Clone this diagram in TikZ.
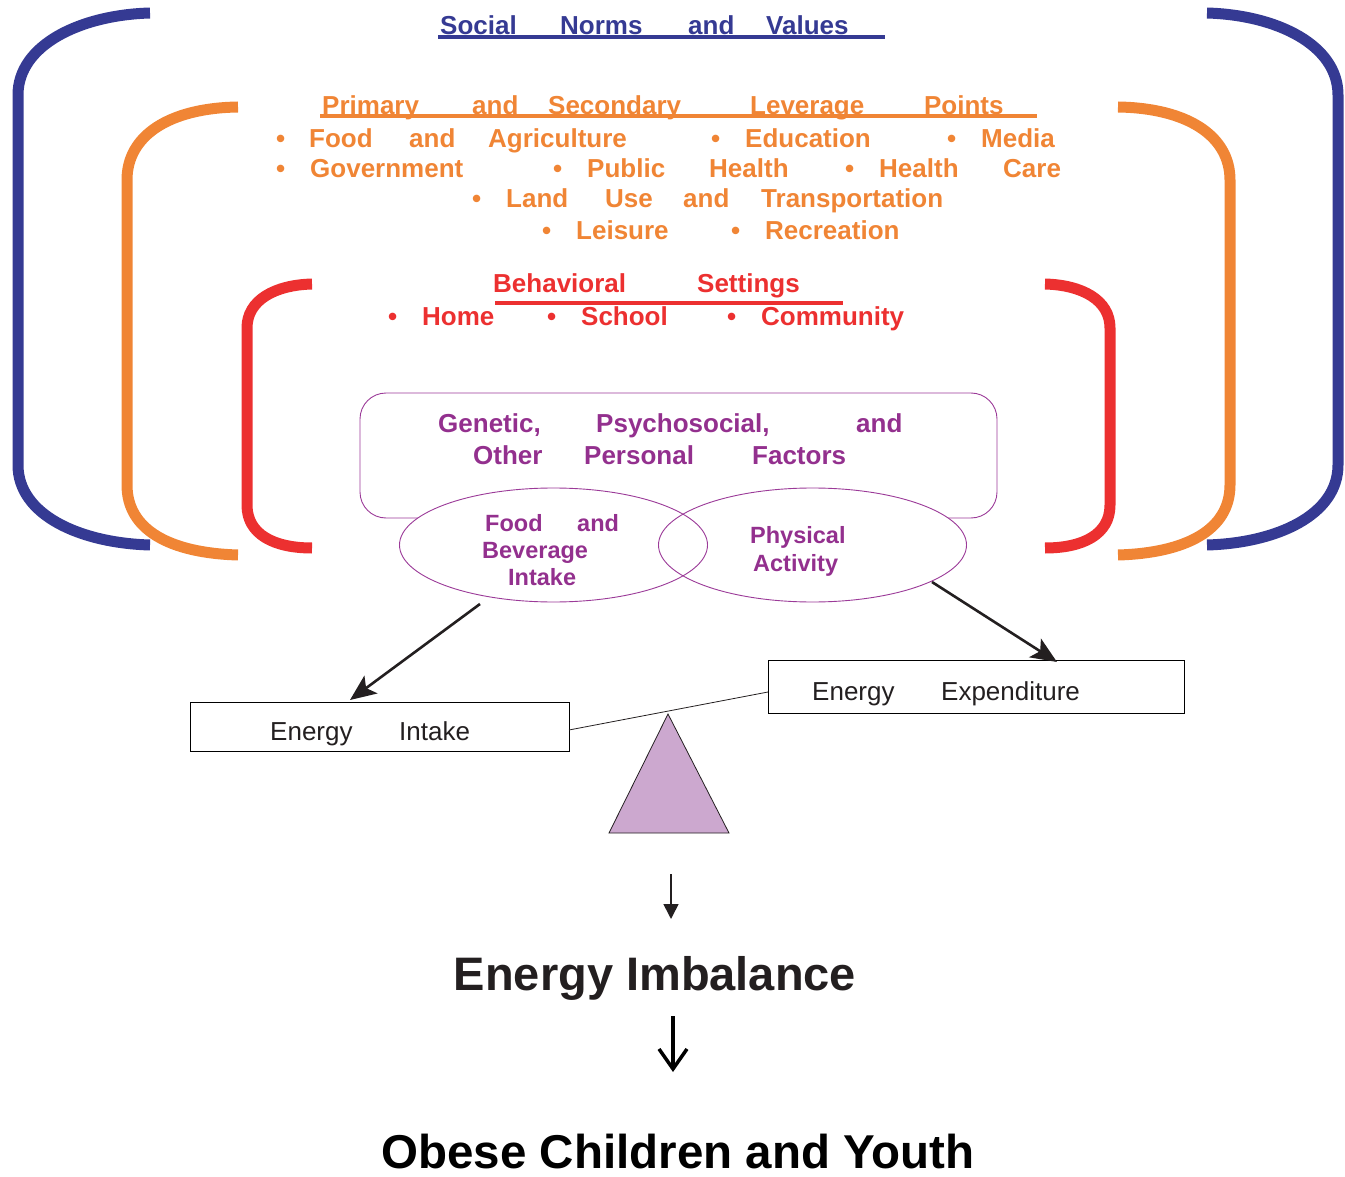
\documentclass[tikz,border=0pt]{standalone}
\usepackage{fontspec}
\setmainfont{Liberation Sans}
\usetikzlibrary{shapes.geometric,arrows.meta}
\definecolor{cblue}{HTML}{353A93}
\definecolor{corange}{HTML}{F08535}
\definecolor{cred}{HTML}{EC3030}
\definecolor{cpurple}{HTML}{93308E}
\definecolor{cline}{HTML}{9B3A98}
\definecolor{ctri}{HTML}{CCA8CF}
\definecolor{cdark}{HTML}{231F20}
\newcommand\wbox[2]{\makebox[#1pt][l]{#2}}
\begin{document}
\begin{tikzpicture}[x=1pt,y=-1pt,
  txt/.style={anchor=base west, inner sep=0pt, font=\fontsize{26}{30}\selectfont\bfseries},
  etxt/.style={anchor=base west, inner sep=0pt, font=\fontsize{23.5}{28}\selectfont\bfseries, text=cpurple},
  btxt/.style={anchor=base west, inner sep=0pt, font=\fontsize{26}{30}\selectfont, text=cdark},
  bigtxt/.style={anchor=base, inner sep=0pt, font=\fontsize{47}{52}\selectfont\bfseries, text=cdark},
  bracket/.style={line width=11pt},
  uline/.style={line width=3.5pt},
  ell/.style={draw=cline, line width=0.9pt, ellipse, minimum width=308pt, minimum height=114pt, inner sep=0pt},
  ebox/.style={draw=black, line width=0.8pt, inner sep=0pt},
  darrow/.style={line width=2.6pt, -{Stealth[length=26pt,width=22pt,inset=6pt]}}
]
\useasboundingbox (0,0) rectangle (1345,1177);

% brackets
\draw[bracket, cblue] (150,13) .. controls (80,15) and (18,45) .. (18,95) -- (18,465) .. controls (18,515) and (80,543) .. (150,545);
\draw[bracket, cblue] (1207,13) .. controls (1277,15) and (1338,45) .. (1338,95) -- (1338,465) .. controls (1338,515) and (1277,543) .. (1207,545);
\draw[bracket, corange] (238,107) .. controls (170,108) and (127,135) .. (127,180) -- (127,485) .. controls (127,530) and (170,553) .. (238,555);
\draw[bracket, corange] (1118,107) .. controls (1186,108) and (1230,135) .. (1230,180) -- (1230,485) .. controls (1230,530) and (1186,553) .. (1118,555);
\draw[bracket, cred] (312,284) .. controls (275,285) and (247,300) .. (247,328) -- (247,505) .. controls (247,535) and (275,548) .. (312,548);
\draw[bracket, cred] (1045,284) .. controls (1082,285) and (1110,300) .. (1110,328) -- (1110,505) .. controls (1110,535) and (1082,548) .. (1045,548);

% social norms
\node[txt, text=cblue] (sn) at (440,35) {\wbox{120}{Social}\wbox{128}{Norms}\wbox{78}{and}Values};
\draw[uline, cblue] (438,37) -- (885,37);

% leverage points
\node[txt, text=corange] (lp) at (322,115) {\wbox{150}{Primary}\wbox{76}{and}\wbox{202}{Secondary}\wbox{174}{Leverage}Points};
\draw[uline, corange] (320,116) -- (1037,116);
\node[txt, text=corange] (lp1) at (276,148) {\wbox{33}{•}\wbox{100}{Food}\wbox{79}{and}\wbox{223}{Agriculture}\wbox{34}{•}\wbox{202}{Education}\wbox{34}{•}Media};
\node[txt, text=corange] (lp2) at (276,178) {\wbox{34}{•}\wbox{243}{Government}\wbox{34}{•}\wbox{122}{Public}\wbox{136}{Health}\wbox{34}{•}\wbox{124}{Health}Care};
\node[txt, text=corange] (lp3) at (472,208) {\wbox{34}{•}\wbox{99}{Land}\wbox{78}{Use}\wbox{78}{and}Transportation};
\node[txt, text=corange] (lp4) at (542,240) {\wbox{34}{•}\wbox{155}{Leisure}\wbox{34}{•}Recreation};

% behavioral settings
\node[txt, text=cred] (bs) at (493,293) {\wbox{204}{Behavioral}Settings};
\draw[uline, cred] (495,303) -- (843,303);
\node[txt, text=cred] (bs1) at (388,325) {\wbox{34}{•}\wbox{125}{Home}\wbox{34}{•}\wbox{146}{School}\wbox{34}{•}Community};

% personal factors box
\draw[draw=cline, line width=0.9pt, rounded corners=26pt] (360,393) rectangle (997,518);
\node[txt, text=cpurple] (pf1) at (438,432) {\wbox{158}{Genetic,}\wbox{260}{Psychosocial,}and};
\node[txt, text=cpurple] (pf2) at (473,464) {\wbox{111}{Other}\wbox{168}{Personal}Factors};

% ellipses
\node[ell, fill=white, draw=none] (fbi) at (553.5,545) {};
\node[ell, fill=white, draw=none] (pa) at (812.5,545) {};
\node[ell] (fbi2) at (553.5,545) {};
\node[ell] (pa2) at (812.5,545) {};
\node[etxt] (f1) at (485,531) {\wbox{92}{Food}and};
\node[etxt] (f2) at (482,558) {Beverage};
\node[etxt] (f3) at (508,585) {Intake};
\node[etxt] (p1) at (750,543) {Physical};
\node[etxt] (p2) at (753,571) {Activity};

% energy boxes
\node[ebox, minimum width=379pt, minimum height=49pt] (ei) at (379.5,726.5) {};
\node[btxt] (eit) at (270,740) {\wbox{129}{Energy}Intake};
\node[ebox, minimum width=416pt, minimum height=53pt] (ee) at (976,686.5) {};
\node[btxt] (eet) at (812,700) {\wbox{129}{Energy}Expenditure};

% arrows from ellipses
\coordinate (a1s) at (480,604);
\coordinate (a1e) at (350,700);
\coordinate (a2s) at (932,582);
\coordinate (a2e) at (1057,662);
\draw[darrow, cdark] (a1s) -- (a1e);
\draw[darrow, cdark] (a2s) -- (a2e);

% seesaw
\coordinate (sl) at (569,730);
\coordinate (sr) at (768,692);
\draw[line width=0.8pt, cdark] (sl) -- (sr);
\coordinate (tapex) at (668,714);
\coordinate (tbl) at (609,833);
\coordinate (tbr) at (729,833);
\draw[fill=ctri, draw=cdark, line width=0.8pt] (tapex) -- (tbr) -- (tbl) -- cycle;

% bottom chain
\coordinate (b1s) at (671,874);
\coordinate (b1e) at (671,919);
\draw[line width=1.6pt, cdark, -{Triangle[length=15pt,width=15pt]}] (b1s) -- (b1e);
\node[bigtxt] (eimb) at (655,990) {Energy Imbalance};
\coordinate (b2s) at (673,1016);
\coordinate (b2e) at (673,1072);
\draw[line width=3.5pt, black, -{Straight Barb[length=20pt,width=28pt,line width=3.5pt]}] (b2s) -- (b2e);
\node[bigtxt, font=\fontsize{47.5}{52}\selectfont\bfseries, text=black] (ocy) at (678,1168) {Obese Children and Youth};
\end{tikzpicture}
\end{document}
